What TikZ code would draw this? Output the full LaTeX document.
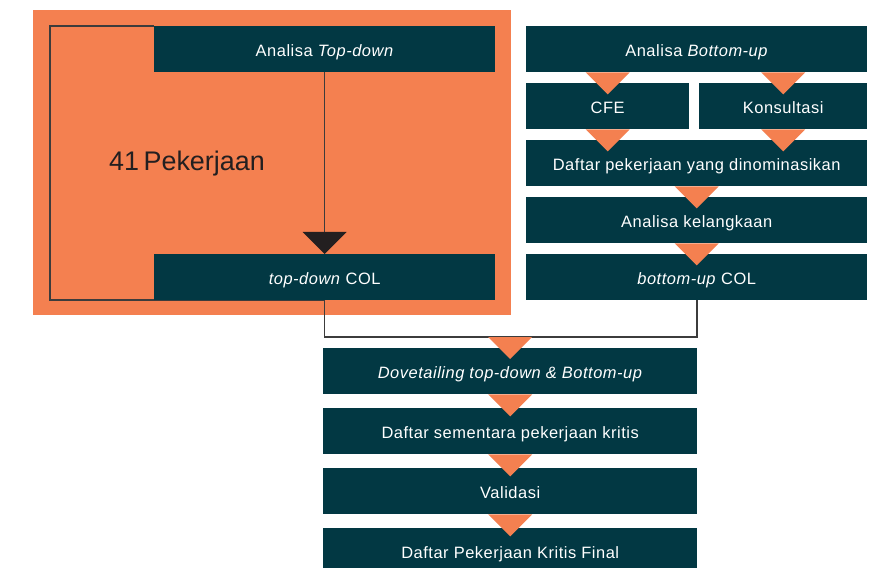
\documentclass[tikz,border=0pt]{standalone}
\usepackage{fontspec}
\setmainfont{Liberation Sans}
\newfontfamily\boxfont[LetterSpace=3.2]{Liberation Sans}
\usetikzlibrary{calc}
\definecolor{brandorange}{RGB}{244,128,80}
\definecolor{brandteal}{RGB}{2,56,67}
\definecolor{linegray}{RGB}{60,60,60}
\definecolor{tipdark}{RGB}{35,31,32}
\begin{document}
\begin{tikzpicture}[x=1bp,y=-1bp,
  box/.style={fill=brandteal,text=white,anchor=north west,inner sep=0pt,
    minimum height=46bp,text height=17bp,text depth=3bp,
    font=\boxfont\fontsize{16.5}{19}\selectfont},
  conn/.style={draw=linegray,line width=1.4bp},
  pics/downtri/.style={code={\fill[brandorange] (-22,0) -- (22,0) -- (0,22) -- cycle;}},
  pics/darktri/.style={code={\fill[tipdark] (-22,0) -- (22,0) -- (0,22) -- cycle;}}]
\clip (0,0) rectangle (881,568);
\fill[white] (0,0) rectangle (881,568);

% top-down panel
\fill[brandorange] (33,10) rectangle (511,315);
\node[font=\fontsize{27}{30}\selectfont,text=tipdark] (jobs) at (187,164) {41\,Pekerjaan};

% connectors of the top-down panel and the join below it
\coordinate (tdnw) at (154,26);
\coordinate (tdcs) at (324.5,300);
\coordinate (join) at (510,337);
\draw[conn] (tdnw) -- ++(-104,0) |- (tdcs) -- (tdcs |- join) -- (697,337) -- (697,299);

% top-down column
\node[box,minimum width=341bp] (td) at (154,26) {Analisa \textit{Top-down}};
\node[box,minimum width=341bp] (tdcol) at (154,254) {\textit{top-down} COL};
\draw[conn] (td.south) -- ($(tdcol.north)+(0,-6)$);
\pic at ($(tdcol.north)+(0,-22)$) {darktri};

% bottom-up column
\node[box,minimum width=341bp] (bu) at (526,26) {Analisa \textit{Bottom-up}};
\node[box,minimum width=163bp] (cfe) at (526,83) {CFE};
\node[box,minimum width=168bp] (kons) at (699,83) {Konsultasi};
\node[box,minimum width=341bp] (nom) at (526,140) {Daftar pekerjaan yang dinominasikan};
\node[box,minimum width=341bp] (lang) at (526,197) {Analisa kelangkaan};
\node[box,minimum width=341bp] (bucol) at (526,254) {\textit{bottom-up} COL};

% merged column
\node[box,minimum width=374bp] (dove) at (323,348) {\textit{Dovetailing top-down \& Bottom-up}};
\node[box,minimum width=374bp] (temp) at (323,408) {Daftar sementara pekerjaan kritis};
\node[box,minimum width=374bp] (val) at (323,468) {Validasi};
\node[box,minimum width=374bp] (final) at (323,528) {Daftar Pekerjaan Kritis Final};

% orange flow markers
\pic at (cfe.north |- bu.south) {downtri};
\pic at (kons.north |- bu.south) {downtri};
\pic at (cfe.south) {downtri};
\pic at (kons.south) {downtri};
\pic at (nom.south) {downtri};
\pic at (lang.south) {downtri};
\pic at (join) {downtri};
\pic at (dove.south) {downtri};
\pic at (temp.south) {downtri};
\pic at (val.south) {downtri};
\end{tikzpicture}
\end{document}
